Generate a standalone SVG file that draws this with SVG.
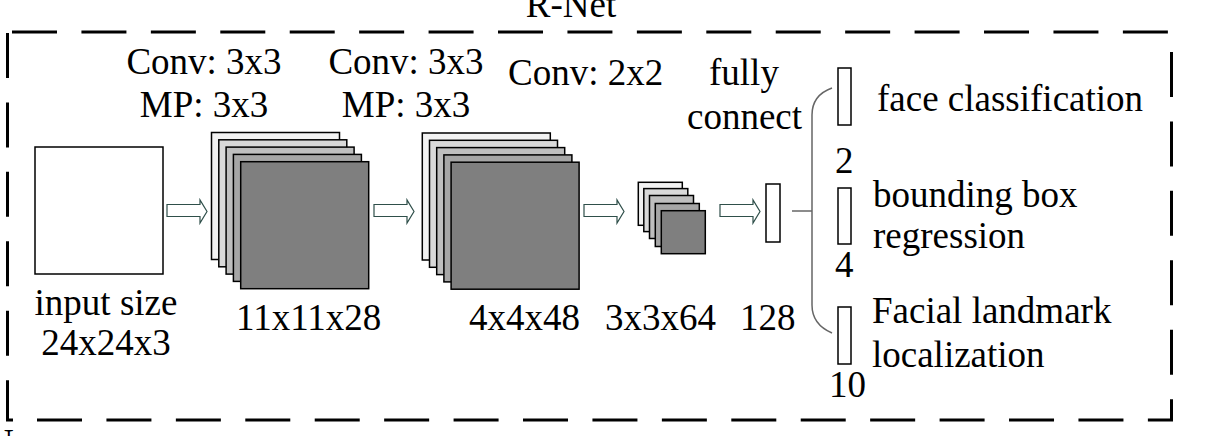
<svg xmlns="http://www.w3.org/2000/svg" width="1208" height="436" viewBox="0 0 1208 436">
<style>
text{font-family:"Liberation Serif","Times New Roman",serif;font-size:37px;fill:#000}
.mid{text-anchor:middle}
.dash{stroke:#000;stroke-width:3;fill:none;stroke-dasharray:45 24.43}
.edge{stroke:#000;stroke-width:3;fill:none}
.l1{fill:#f2f2f2;stroke:#000;stroke-width:1.5}
.l2{fill:#d9d9d9;stroke:#000;stroke-width:1.5}
.l3{fill:#bfbfbf;stroke:#000;stroke-width:1.5}
.l4{fill:#a6a6a6;stroke:#000;stroke-width:1.5}
.l5{fill:#7f7f7f;stroke:#000;stroke-width:1.5}
.box{fill:#fff;stroke:#000;stroke-width:1.5}
.arr{fill:#fff;stroke:#2f4f4a;stroke-width:1.2}
.conn{fill:none;stroke:#666;stroke-width:1.5}
</style>
<defs>
<path id="arrow" class="arr" d="M0,4.5 H33 V0 L40,11.5 L33,23 V16.5 H0 Z"/>
</defs>
<rect width="1208" height="436" fill="#fff"/>
<g id="frame">
<line class="dash" x1="12" y1="32" x2="1168" y2="32"/>
<line class="dash" x1="1171.5" y1="52" x2="1171.5" y2="420"/>
<line class="dash" x1="37" y1="420" x2="1173" y2="420"/>
<line class="dash" x1="7.5" y1="33" x2="7.5" y2="420"/>
<path class="edge" d="M7.5,405 V420 H13"/>
<text class="mid" x="571" y="17">R-Net</text>
<text x="-13" y="455">N</text>
</g>
<g id="input">
<rect class="box" x="35" y="147" width="128" height="127"/>
<text class="mid" x="106" y="315">input size</text>
<text class="mid" x="106" y="355">24x24x3</text>
</g>
<g id="conv1">
<text class="mid" x="204" y="74">Conv: 3x3</text>
<text class="mid" x="204" y="117">MP: 3x3</text>
<rect class="l1" x="211.5" y="132.5" width="128" height="127"/>
<rect class="l2" x="218.8" y="139.8" width="128" height="127"/>
<rect class="l3" x="226.1" y="147.1" width="128" height="127"/>
<rect class="l4" x="233.4" y="154.4" width="128" height="127"/>
<rect class="l5" x="240.7" y="161.7" width="128" height="127"/>
<text x="236" y="330">11x11x28</text>
</g>
<g id="conv2">
<text class="mid" x="406" y="74">Conv: 3x3</text>
<text class="mid" x="406" y="117">MP: 3x3</text>
<rect class="l1" x="422.3" y="133" width="128" height="127"/>
<rect class="l2" x="429.5" y="140.3" width="128" height="127"/>
<rect class="l3" x="436.7" y="147.6" width="128" height="127"/>
<rect class="l4" x="443.9" y="154.9" width="128" height="127"/>
<rect class="l5" x="451.1" y="162.2" width="128" height="127"/>
<text x="469" y="330">4x4x48</text>
</g>
<g id="conv3">
<text x="508" y="85">Conv: 2x2</text>
<rect class="l1" x="638.3" y="182.3" width="44" height="43"/>
<rect class="l2" x="643.8" y="188.6" width="44" height="43"/>
<rect class="l3" x="649.5" y="195.5" width="44" height="43"/>
<rect class="l4" x="655.3" y="203.5" width="44" height="43"/>
<rect class="l5" x="661.3" y="210.7" width="44" height="43"/>
<text x="605" y="330">3x3x64</text>
</g>
<g id="fc">
<text x="709" y="85">fully</text>
<text x="687" y="129">connect</text>
<rect class="box" x="766" y="184" width="14" height="58"/>
<text x="740" y="330">128</text>
</g>
<g id="out-face">
<rect class="box" x="838" y="68" width="13" height="57"/>
<text x="835" y="173">2</text>
<text x="877" y="111">face classification</text>
</g>
<g id="out-bbox">
<rect class="box" x="838" y="188" width="13" height="56"/>
<text x="835" y="277">4</text>
<text x="873" y="207">bounding box</text>
<text x="873" y="248">regression</text>
</g>
<g id="out-landmark">
<rect class="box" x="838" y="307" width="13" height="57"/>
<text x="829" y="397">10</text>
<text x="872" y="323">Facial landmark</text>
<text x="872" y="367">localization</text>
</g>
<g id="connectors">
<use href="#arrow" x="167" y="200"/>
<use href="#arrow" x="374" y="200"/>
<use href="#arrow" x="584" y="200"/>
<use href="#arrow" x="720" y="200"/>
<line class="conn" x1="792" y1="211" x2="812" y2="211"/>
<path class="conn" d="M832,88 C818,93 812,102 812,115 L812,305 C812,318 818,327 832,333"/>
</g>
</svg>
